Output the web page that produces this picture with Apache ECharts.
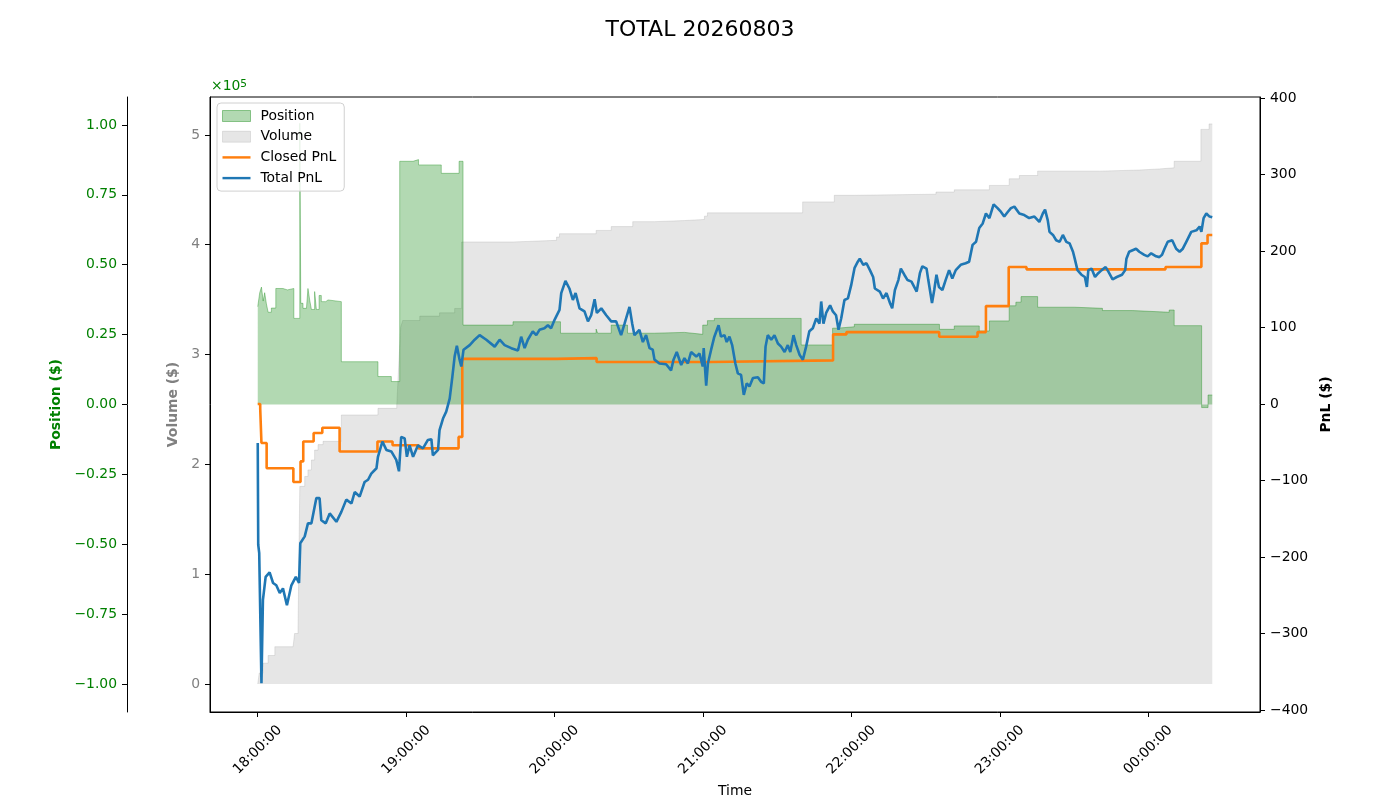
<!DOCTYPE html>
<html lang="en">
<head>
<meta charset="UTF-8">
<title>TOTAL 20260803</title>
<script src="https://cdn.jsdelivr.net/npm/echarts@6.0.0/dist/echarts.min.js"></script>
<style>
    html, body { margin: 0; padding: 0; background: #fff; }
    #main { width: 1400px; height: 800px; }
</style>
</head>
<body>
<div id="main"></div>
<script type="text/javascript">
// time is minutes after 18:00:00
var totalPnl = [[0,-51],[0.2,-184],[0.6,-195],[1.5,-365],[2.1,-256],[3.2,-226],[4.8,-220],[6.2,-234],[7.5,-237],[8.9,-247],[10.2,-241],[11.8,-263],[13.6,-237],[15.4,-226],[16.7,-234],[17.2,-182],[19.0,-173],[20.3,-156],[21.7,-156],[23.7,-123],[25.0,-123],[25.7,-152],[27.5,-156],[29.1,-143],[31.8,-154],[33.8,-141],[35.8,-125],[37.9,-130],[39.2,-115],[41.2,-121],[43.2,-102],[44.6,-99],[45.9,-91],[48.0,-84],[48.6,-69],[50.4,-49],[52.0,-60],[54.0,-62],[56.0,-73],[57.1,-88],[58.0,-43],[59.4,-45],[60.3,-69],[61.4,-54],[62.8,-69],[64.8,-54],[66.8,-58],[68.8,-47],[70.2,-46],[70.8,-67],[72.9,-60],[73.5,-34],[74.9,-19],[76.2,-10],[77.6,7],[78.7,36],[79.6,62],[80.5,76],[81.6,58],[82.3,49],[83.2,71],[85.7,77],[87.7,84],[89.7,90],[92.4,84],[95.8,75],[97.8,84],[99.8,77],[102.5,73],[105.2,70],[106.5,88],[107.9,73],[109.2,84],[111.2,95],[112.6,90],[113.9,97],[115.9,99],[117.3,103],[118.6,99],[120.0,110],[122.0,123],[122.7,145],[124.4,161],[126.0,151],[127.4,136],[128.5,145],[130.1,125],[132.1,121],[133.5,108],[134.8,116],[136.2,137],[137.1,119],[138.9,125],[140.9,116],[142.9,108],[144.9,108],[146.9,90],[148.3,105],[150.3,127],[151.4,105],[152.3,90],[154.3,97],[155.7,81],[157.0,90],[158.4,73],[159.7,71],[160.4,58],[162.4,53],[165.1,52],[167.1,44],[168.1,58],[169.4,68],[171.2,51],[172.5,60],[173.9,53],[175.2,68],[177.3,62],[178.6,66],[179.9,49],[180.3,73],[181.3,24],[182.0,53],[183.3,71],[184.6,88],[186.3,103],[187.3,88],[188.7,90],[189.6,81],[190.7,88],[191.8,77],[193.1,53],[194.1,40],[195.4,38],[196.5,12],[197.7,27],[198.8,23],[200.2,34],[202.2,35],[203.5,29],[204.6,27],[205.3,75],[206.2,90],[207.6,84],[208.9,90],[210.3,79],[211.6,75],[213.0,68],[214.3,77],[215.3,68],[216.6,90],[217.7,77],[219.1,64],[220.4,58],[221.7,75],[223.0,95],[224.4,99],[225.8,112],[227.1,105],[227.8,134],[228.7,105],[229.8,119],[231.4,129],[232.5,121],[233.8,116],[234.8,97],[235.9,112],[237.2,136],[238.6,138],[239.9,155],[241.3,178],[242.6,186],[243.4,190],[244.8,182],[246.1,184],[247.5,175],[248.8,166],[249.5,151],[251.5,147],[252.8,138],[254.2,145],[255.6,132],[256.5,125],[257.6,149],[259.0,162],[260.0,177],[261.4,169],[262.7,162],[264.3,160],[266.4,147],[267.7,171],[268.7,180],[270.4,177],[271.1,162],[272.6,132],[273.5,149],[274.4,169],[275.4,153],[276.8,149],[278.1,162],[279.5,175],[280.8,164],[282.2,175],[284.2,182],[286.2,184],[287.6,186],[289.0,208],[290.4,212],[291.7,230],[293.1,236],[294.4,249],[295.8,243],[297.5,261],[299.1,256],[300.5,251],[301.8,245],[303.2,251],[304.5,256],[305.9,258],[307.9,249],[309.9,247],[311.9,243],[314.0,245],[316.0,238],[317.4,249],[318.3,254],[319.4,240],[320.1,225],[321.5,221],[322.8,214],[324.2,212],[325.5,221],[326.9,212],[328.2,210],[329.6,199],[330.3,190],[331.4,175],[333.0,169],[334.4,166],[335.2,153],[335.8,175],[337.1,177],[338.5,166],[339.8,171],[341.2,175],[342.8,179],[343.9,173],[345.6,163],[347.3,166],[349.4,169],[350.7,175],[351.2,190],[352.3,199],[353.7,201],[355.1,203],[356.4,199],[358.4,195],[359.8,193],[361.2,197],[363.2,193],[364.5,192],[365.6,195],[366.6,203],[367.9,212],[369.7,214],[371.3,203],[372.7,199],[374.0,203],[375.4,212],[377.4,225],[379.5,227],[380.8,232],[381.5,225],[382.4,243],[383.5,249],[384.8,245],[385.9,244]];

var closedPnl = [[0,0],[1.0,-6],[1.5,-51],[3.6,-84],[14.4,-102],[17.3,-75],[18.4,-49],[22.6,-38],[26.1,-31],[33.1,-62],[48.4,-49],[54.5,-54],[65.0,-58],[81.2,-43],[82.7,59],[120.7,60],[137.0,55],[183.0,57],[232.6,91],[238.0,94],[275.5,88],[291.0,94],[294.4,128],[303.6,179],[310.8,176],[367.0,179],[381.5,210],[384.0,221],[385.9,221]];

// position in 1e5 $
var position = [[0,0.35],[0.8,0.40],[1.5,0.42],[2.2,0.37],[2.8,0.40],[3.5,0.36],[4.2,0.33],[5.5,0.345],[7.3,0.415],[10.2,0.41],[12.0,0.415],[14.6,0.308],[17.0,1.006],[17.4,0.362],[18.3,0.344],[19.7,0.35],[20.3,0.415],[21.0,0.374],[21.7,0.34],[23.0,0.404],[23.7,0.34],[24.8,0.39],[25.7,0.368],[27.5,0.374],[28.4,0.368],[33.8,0.153],[48.6,0.10],[54.0,0.082],[57.4,0.87],[62.8,0.876],[65.0,0.857],[74.2,0.827],[81.4,0.87],[83.0,0.284],[103.2,0.296],[122.4,0.255],[136.8,0.27],[137.4,0.255],[142.9,0.284],[149.5,0.255],[160.4,0.258],[172.5,0.251],[179.9,0.284],[181.8,0.30],[184.6,0.308],[219.7,0.213],[232.4,0.273],[234.3,0.278],[241.2,0.287],[275.6,0.269],[281.6,0.281],[291.7,0.263],[295.8,0.299],[303.8,0.353],[306.5,0.366],[308.6,0.386],[315.3,0.348],[330.1,0.344],[341.5,0.336],[353.7,0.33],[368.5,0.338],[370.5,0.282],[381.6,-0.011],[384.2,0.034],[385.9,0.034]];

// volume in 1e5 $
var volume = [[0,0],[0.6,0.10],[2.2,0.19],[4.2,0.26],[6.9,0.34],[14.3,0.355],[14.9,0.46],[16.3,0.52],[17.0,1.80],[19.0,1.89],[20.3,1.95],[21.7,2.04],[23.0,2.13],[24.4,2.18],[26.4,2.21],[33.8,2.45],[48.6,2.51],[56.2,2.54],[57.0,2.90],[57.8,3.25],[58.6,3.31],[65.5,3.35],[73.5,3.38],[79.6,3.42],[82.4,4.025],[103.2,4.04],[120.8,4.07],[122.0,4.10],[136.8,4.13],[142.9,4.165],[151.6,4.21],[160.4,4.22],[172.5,4.23],[180.6,4.26],[181.8,4.29],[220.3,4.39],[233.1,4.45],[241.2,4.46],[274.2,4.48],[281.6,4.50],[295.8,4.54],[303.8,4.60],[307.9,4.63],[315.3,4.67],[340.2,4.68],[356.4,4.69],[364.4,4.70],[370.5,4.76],[381.3,5.05],[384.6,5.10],[385.9,5.10]];

var timeTicks = [0, 60, 120, 180, 240, 300, 360];
var volTicks = [0, 1, 2, 3, 4, 5];
var posTicks = [-1, -0.75, -0.5, -0.25, 0, 0.25, 0.5, 0.75, 1];
var pnlTicks = [-400, -300, -200, -100, 0, 100, 200, 300, 400];

var FONT = 'DejaVu Sans';
var FS = 13.9;
var MINUS = '\u2212';
var LINE_ICON = 'path://M0,0H30V2.6H0Z';

function pad(n) { return (n < 10 ? '0' : '') + n; }
function timeLabel(m) {
    var h = (18 + Math.floor(m / 60)) % 24;
    return pad(h) + ':' + pad(Math.round(m % 60)) + ':00';
}
function signed(txt, v) { return v < 0 ? MINUS + txt.replace('-', '') : txt; }

var chart = echarts.init(document.getElementById('main'));

chart.setOption({
    animation: false,
    textStyle: { fontFamily: FONT },
    title: {
        text: 'TOTAL 20260803',
        left: 'center',
        top: 14,
        textStyle: { fontSize: 22, fontWeight: 'normal', color: '#000', fontFamily: FONT }
    },
    legend: {
        orient: 'vertical',
        left: 217,
        top: 103,
        padding: [6, 8, 6, 5],
        itemGap: 6.7,
        itemWidth: 28,
        itemHeight: 11,
        borderColor: '#d0d0d0',
        borderWidth: 1,
        borderRadius: 4,
        backgroundColor: 'rgba(255,255,255,0.8)',
        textStyle: { fontSize: FS, color: '#000', fontFamily: FONT, padding: [0, 0, 0, 5] },
        data: [
            { name: 'Position', icon: 'rect', itemStyle: { color: 'rgba(0,128,0,0.3)', borderColor: 'rgba(0,128,0,0.4)', borderWidth: 1 } },
            { name: 'Volume', icon: 'rect', itemStyle: { color: 'rgba(128,128,128,0.2)', borderColor: 'rgba(128,128,128,0.2)', borderWidth: 1 } },
            { name: 'Closed PnL', icon: LINE_ICON, itemStyle: { color: '#ff7f0e', borderWidth: 0 } },
            { name: 'Total PnL', icon: LINE_ICON, itemStyle: { color: '#1f77b4', borderWidth: 0 } }
        ]
    },
    graphic: [{
        type: 'text',
        left: 211,
        top: 79,
        style: {
            text: '×10{s|5}',
            fill: '#008000',
            fontSize: FS,
            fontFamily: FONT,
            rich: { s: { fontSize: 10.5, fill: '#008000', verticalAlign: 'top', fontFamily: FONT } }
        }
    }],
    grid: {
        left: 210, right: 140, top: 97, bottom: 88,
        outerBoundsMode: 'none',
        show: true, borderColor: '#000', borderWidth: 1
    },
    xAxis: {
        type: 'value',
        min: -19.3,
        max: 405.2,
        name: 'Time',
        nameLocation: 'middle',
        nameGap: 65,
        nameTextStyle: { color: '#000', fontSize: FS, fontFamily: FONT },
        axisLine: { show: true, onZero: false, lineStyle: { color: '#000' } },
        axisTick: { show: true, length: 5, customValues: timeTicks, lineStyle: { color: '#000' } },
        axisLabel: {
            customValues: timeTicks,
            formatter: timeLabel,
            rotate: 45,
            align: 'center',
            verticalAlign: 'middle',
            margin: 38,
            color: '#000',
            fontSize: FS
        },
        splitLine: { show: false }
    },
    yAxis: [{
        // volume
        type: 'value',
        position: 'left',
        min: -0.2545,
        max: 5.345,
        name: 'Volume ($)',
        nameLocation: 'middle',
        nameGap: 26,
        nameTextStyle: { color: '#808080', fontWeight: 'bold', fontSize: FS, fontFamily: FONT },
        axisLine: { show: true, onZero: false, lineStyle: { color: '#000' } },
        axisTick: { show: true, length: 5, customValues: volTicks, lineStyle: { color: '#000' } },
        axisLabel: { customValues: volTicks, color: '#808080', margin: 10, fontSize: FS },
        splitLine: { show: false }
    }, {
        // position
        type: 'value',
        position: 'left',
        offset: 83,
        min: -1.1,
        max: 1.1,
        name: 'Position ($)',
        nameLocation: 'middle',
        nameGap: 58,
        nameTextStyle: { color: '#008000', fontWeight: 'bold', fontSize: FS, fontFamily: FONT },
        axisLine: { show: true, onZero: false, lineStyle: { color: '#000' } },
        axisTick: { show: true, length: 5, customValues: posTicks, lineStyle: { color: '#000' } },
        axisLabel: {
            customValues: posTicks,
            color: '#008000',
            margin: 10,
            fontSize: FS,
            formatter: function (v) { return signed(v.toFixed(2), v); }
        },
        splitLine: { show: false }
    }, {
        // pnl
        type: 'value',
        position: 'right',
        min: -402.6,
        max: 401.3,
        name: 'PnL ($)',
        nameLocation: 'middle',
        nameGap: 52,
        nameTextStyle: { color: '#000', fontWeight: 'bold', fontSize: FS, fontFamily: FONT },
        axisLine: { show: true, onZero: false, lineStyle: { color: '#000' } },
        axisTick: { show: true, length: 5, customValues: pnlTicks, lineStyle: { color: '#000' } },
        axisLabel: {
            customValues: pnlTicks,
            color: '#000',
            margin: 10,
            fontSize: FS,
            formatter: function (v) { return signed(String(v), v); }
        },
        splitLine: { show: false }
    }],
    series: [{
        name: 'Volume',
        type: 'line',
        yAxisIndex: 0,
        step: 'end',
        symbol: 'none',
        z: 1,
        data: volume,
        itemStyle: { color: 'rgba(128,128,128,0.2)' },
        lineStyle: { width: 1, color: 'rgba(128,128,128,0.2)' },
        areaStyle: { color: 'rgba(128,128,128,0.2)', opacity: 1 }
    }, {
        name: 'Position',
        type: 'line',
        yAxisIndex: 1,
        step: 'end',
        symbol: 'none',
        z: 2,
        data: position,
        itemStyle: { color: 'rgba(0,128,0,0.3)' },
        lineStyle: { width: 1, color: 'rgba(0,128,0,0.35)' },
        areaStyle: { color: 'rgba(0,128,0,0.3)', opacity: 1 }
    }, {
        name: 'Closed PnL',
        type: 'line',
        yAxisIndex: 2,
        step: 'end',
        symbol: 'none',
        z: 3,
        data: closedPnl,
        itemStyle: { color: '#ff7f0e' },
        lineStyle: { width: 2.6, color: '#ff7f0e' }
    }, {
        name: 'Total PnL',
        type: 'line',
        yAxisIndex: 2,
        symbol: 'none',
        z: 4,
        data: totalPnl,
        itemStyle: { color: '#1f77b4' },
        lineStyle: { width: 2.6, color: '#1f77b4' }
    }]
});
</script>
</body>
</html>
